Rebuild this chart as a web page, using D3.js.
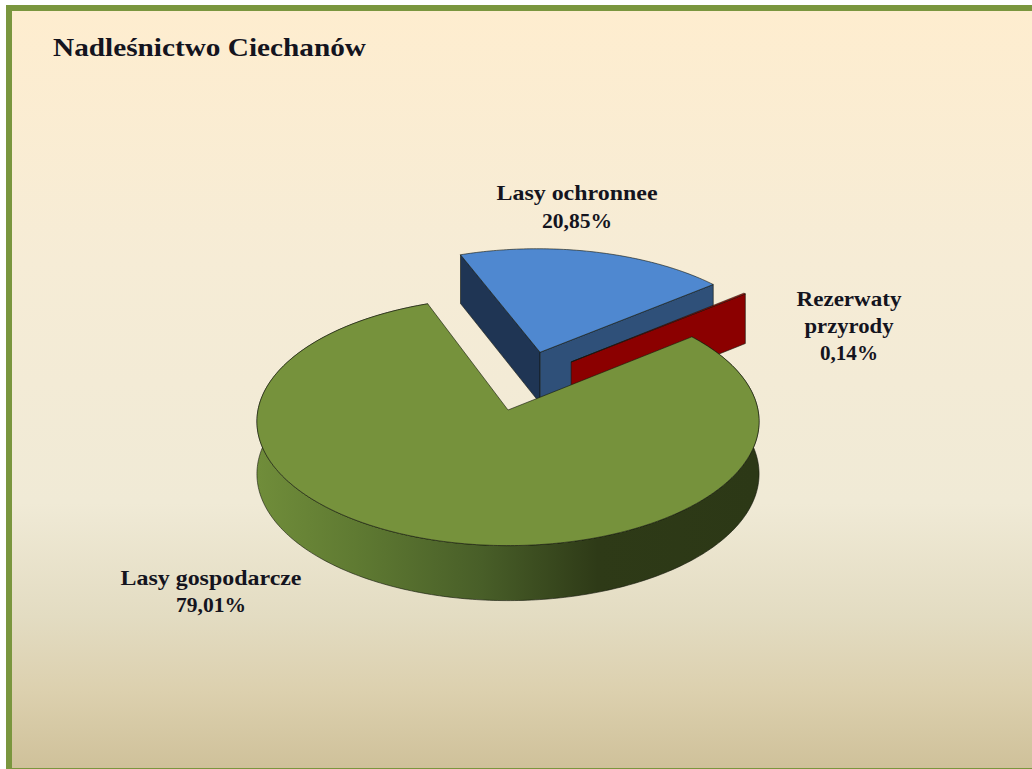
<!DOCTYPE html>
<html lang="pl">
<head>
    <meta charset="UTF-8">
    <title>Nadleśnictwo Ciechanów</title>
    <style>
        html, body { margin: 0; padding: 0; background: #fff; overflow: hidden; }
        svg { display: block; }
        text { font-family: "Liberation Serif", serif; font-weight: bold; fill: #14141e; }
    </style>
</head>
<body>
    <div id="chart"></div>

    <script src="https://d3js.org/d3.v7.min.js"></script>
    <script>
        // chart data, order as drawn clockwise
        const categories = ["Lasy ochronnee", "Rezerwaty przyrody", "Lasy gospodarcze"];
        const shares = [20.85, 0.14, 79.01];
        const valueLabels = ["20,85%", "0,14%", "79,01%"];
        const chartTitle = "Nadleśnictwo Ciechanów";

        const width = 1032, height = 769;

        // 3d view of the pie
        const cx = 508, cy = 410, rx = 250, ry = 123.1;
        const depth = 52.25;     // wall height at the middle of the pie
        const persp = 0.0922;    // back is smaller than the front
        const depthPersp = 0.05; // same for the wall height
        const squeeze = 0.917;   // sideways foreshortening of the angles
        const turn = -22.1 * Math.PI / 180;

        const svg = d3.select("#chart").append("svg")
            .attr("width", width)
            .attr("height", height);

        const defs = svg.append("defs");

        const bg = defs.append("linearGradient")
            .attr("id", "bg")
            .attr("x1", 0).attr("y1", 0).attr("x2", 0).attr("y2", 1);
        [[0, "#feedcf"], [0.33, "#f6ecd6"], [0.65, "#f0ead6"], [0.8, "#e3dcc2"], [0.9, "#dcd0ae"], [1, "#cfc19a"]]
            .forEach(s => bg.append("stop").attr("offset", s[0]).attr("stop-color", s[1]));

        const wall = defs.append("linearGradient")
            .attr("id", "wall")
            .attr("gradientUnits", "userSpaceOnUse")
            .attr("x1", 257).attr("y1", 0).attr("x2", 758).attr("y2", 0);
        [[0, "#708d3a"], [0.2, "#5f7a32"], [0.45, "#485e28"], [0.68, "#2e3a17"], [1, "#2c3816"]]
            .forEach(s => wall.append("stop").attr("offset", s[0]).attr("stop-color", s[1]));

        // frame
        svg.append("rect")
            .attr("x", 6).attr("y", 5)
            .attr("width", width - 6).attr("height", height - 5)
            .attr("fill", "#7a963e");
        svg.append("rect")
            .attr("x", 12).attr("y", 11)
            .attr("width", width - 12).attr("height", height - 12)
            .attr("fill", "url(#bg)");

        const pie = d3.pie()
            .value(d => d)
            .sort(null)
            .startAngle(turn)
            .endAngle(turn + 2 * Math.PI);
        const slices = pie(shares);

        // pulled out slices, in units of the radius
        const offsets = [[0.134, 0.49], [0.262, 0.405], [0, 0]];

        // angle on the pie + radius + level (0 top, 1 bottom) to screen
        function project(a, r, z, off) {
            const t = Math.atan2(squeeze * Math.sin(a), Math.cos(a));
            const u = r * Math.sin(t) + off[0];
            const v = r * Math.cos(t) + off[1];
            const w = 1 + persp * v;
            return [cx + rx * u / w, cy - ry * v / w + depth * z / (1 + depthPersp * v)];
        }

        function rim(a0, a1, z, off) {
            const n = Math.max(2, Math.ceil((a1 - a0) * 60));
            return d3.range(n + 1).map(i => project(a0 + (a1 - a0) * i / n, 1, z, off));
        }

        const line = d3.line().curve(d3.curveLinear);

        function draw(points, fill) {
            svg.append("path")
                .attr("d", line(points) + "Z")
                .attr("fill", fill)
                .attr("stroke", "#12160c")
                .attr("stroke-width", 0.6)
                .attr("stroke-linejoin", "round");
        }

        // a straight cut wall from the centre out to angle a
        function cutWall(a, off, fill) {
            draw([
                project(a, 0, 0, off),
                project(a, 1, 0, off),
                project(a, 1, 1, off),
                project(a, 0, 1, off)
            ], fill);
        }

        function topFace(s, off, fill) {
            draw([project(0, 0, 0, off)].concat(rim(s.startAngle, s.endAngle, 0, off)), fill);
        }

        // blue slice
        cutWall(slices[0].startAngle, offsets[0], "#1f3554");
        cutWall(slices[0].endAngle, offsets[0], "#2f5079");
        topFace(slices[0], offsets[0], "#4f88d0");

        // red slice, nearly only its wall is seen
        cutWall(slices[1].endAngle, offsets[1], "#8b0000");
        topFace(slices[1], offsets[1], "#e00000");

        // green slice
        const greenSlice = slices[2];
        draw(rim(greenSlice.startAngle, greenSlice.endAngle, 0, offsets[2])
            .concat(rim(greenSlice.startAngle, greenSlice.endAngle, 1, offsets[2]).reverse()), "url(#wall)");
        topFace(greenSlice, offsets[2], "#76923c");

        // texts, the original face is wider so they are stretched to its widths
        svg.append("text")
            .attr("x", 53)
            .attr("y", 56)
            .attr("font-size", 25)
            .attr("textLength", 313)
            .attr("lengthAdjust", "spacingAndGlyphs")
            .text(chartTitle);

        const labelRows = [
            { x: 577, y: [200, 228], w: [161, 70], lines: [categories[0], valueLabels[0]] },
            { x: 849, y: [306, 333, 360], w: [105, 89, 58], lines: categories[1].split(" ").concat(valueLabels[1]) },
            { x: 211, y: [585, 612], w: [181, 70], lines: [categories[2], valueLabels[2]] }
        ];

        labelRows.forEach(function (row) {
            row.lines.forEach(function (txt, i) {
                svg.append("text")
                    .attr("x", row.x)
                    .attr("y", row.y[i])
                    .attr("text-anchor", "middle")
                    .attr("font-size", 21)
                    .attr("textLength", row.w[i])
                    .attr("lengthAdjust", "spacingAndGlyphs")
                    .text(txt);
            });
        });
    </script>
</body>
</html>
